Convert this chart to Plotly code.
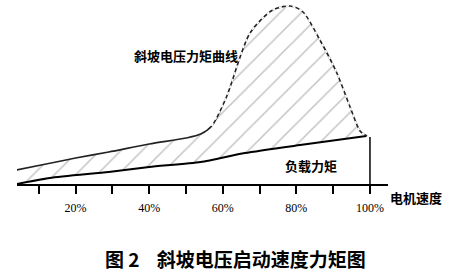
import plotly.graph_objects as go

# Data (speed in %, torque in arbitrary units)
load_speed = [4, 13, 29, 40, 54, 66, 81, 99, 100]
load_torque = [0, 6, 12, 17, 22, 31, 39, 48, 47]

ramp_speed = [4, 12, 20, 29, 40, 50, 54, 57, 61, 67.4, 73.6, 78.3, 81.8, 86.4, 91, 94.6, 97.3, 99.2]
ramp_torque = [14, 20, 26, 32, 40, 46, 50, 58, 87, 151, 174, 178, 172, 144, 111, 77, 53, 48]

tick_vals = [20, 40, 60, 80, 100]
tick_text = ["20%", "40%", "60%", "80%", "100%"]
minor_vals = [10, 30, 50, 70, 90]

cjk = "Noto Sans CJK SC"

fig = go.Figure()

# load torque (base for fill)
fig.add_trace(go.Scatter(x=load_speed[:-1], y=load_torque[:-1], mode="lines",
                         line=dict(color="black", width=2, shape="spline", smoothing=0.6),
                         showlegend=False, hoverinfo="skip"))
# hatched region between load and ramp-voltage torque
fig.add_trace(go.Scatter(x=ramp_speed, y=ramp_torque, mode="lines", fill="tonexty",
                         fillcolor="rgba(0,0,0,0)",
                         fillpattern=dict(shape="/", fgcolor="#888888", bgcolor="white",
                                          size=15, solidity=0.1),
                         line=dict(color="#222222", width=1.6, shape="spline", smoothing=0.8),
                         showlegend=False, hoverinfo="skip"))
# dashed look on the peak part
split = 7
fig.add_trace(go.Scatter(x=ramp_speed[split:], y=ramp_torque[split:], mode="lines",
                         line=dict(color="white", width=1.8, dash="3px,4px", shape="spline", smoothing=0.8),
                         showlegend=False, hoverinfo="skip"))
# vertical line at 100%
fig.add_trace(go.Scatter(x=[load_speed[-1], load_speed[-1]], y=[0, load_torque[-1]], mode="lines",
                         line=dict(color="black", width=1.5), showlegend=False, hoverinfo="skip"))

fig.update_xaxes(range=[4.08, 104.9], showline=True, linecolor="black", linewidth=2,
                 showgrid=False, zeroline=False, ticks="outside", ticklen=8, tickwidth=1.5,
                 tickcolor="black", tickvals=tick_vals, ticktext=tick_text,
                 tickfont=dict(family="Liberation Serif", size=12, color="black"),
                 ticklabelstandoff=4,
                 minor=dict(tickvals=minor_vals, ticks="outside", ticklen=8, tickwidth=1.5,
                            tickcolor="black"))
fig.update_yaxes(range=[0, 184], visible=False, showgrid=False, zeroline=False)

fig.add_annotation(x=105.8, y=0, xref="x", yref="y", ax=-18, ay=0, showarrow=True,
                   arrowhead=2, arrowsize=1, arrowwidth=2, arrowcolor="black", text="")

fig.add_annotation(x=50, y=184 - 55, xref="x", yref="y", text="<b>斜坡电压力矩曲线</b>",
                   showarrow=False, font=dict(family=cjk, size=13, color="black"))
fig.add_annotation(x=84, y=184 - 165, xref="x", yref="y", text="<b>负载力矩</b>",
                   showarrow=False, font=dict(family=cjk, size=13, color="black"))

W, H, L, R, B = 460, 277, 17, 72, 93
pw, ph = W - L - R, H - B

fig.add_annotation(x=(388 - L) / pw, y=(H - 197 - B) / ph, xref="paper", yref="paper",
                   text="<b>电机速度</b>", showarrow=False, xanchor="left", yanchor="middle",
                   font=dict(family=cjk, size=13, color="black"))
fig.add_annotation(x=(235 - L) / pw, y=(H - 258 - B) / ph, xref="paper", yref="paper",
                   text="<b>图 2    斜坡电压启动速度力矩图</b>", showarrow=False,
                   xanchor="center", yanchor="middle",
                   font=dict(family=cjk, size=19, color="black"))

fig.update_layout(
    width=W, height=H,
    margin=dict(l=L, r=R, t=0, b=B),
    paper_bgcolor="white", plot_bgcolor="white",
)

fig.write_html("out.html")
